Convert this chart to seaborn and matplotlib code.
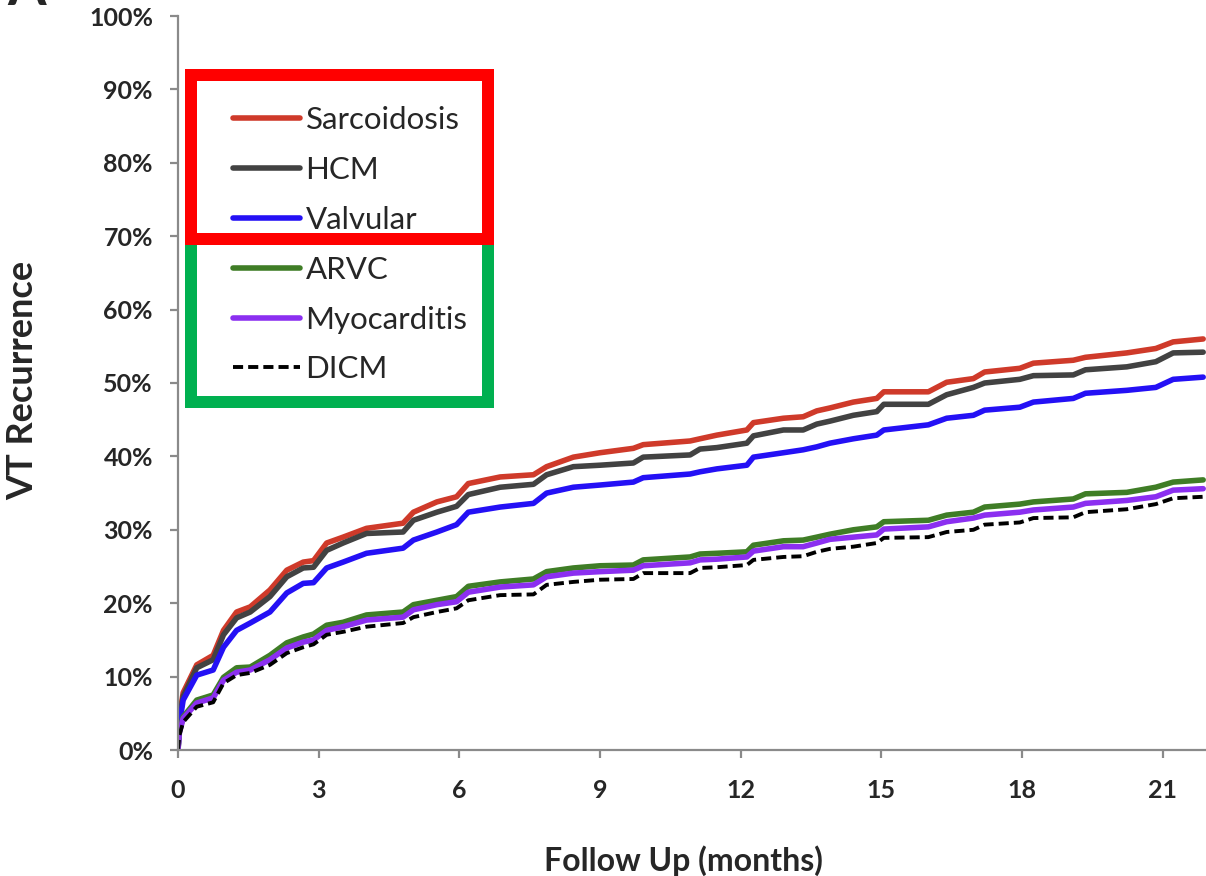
import matplotlib
matplotlib.use("Agg")
import matplotlib.pyplot as plt
from matplotlib.patches import Rectangle
import numpy as np
import pandas as pd
import seaborn as sns

# Follow-up time grid (months)
months = [0, 0.03, 0.11, 0.40, 0.75, 0.97, 1.25, 1.54, 1.96, 2.32, 2.67, 2.89,
          3.17, 3.52, 4.02, 4.80, 5.02, 5.52, 5.94, 6.19, 6.87, 7.58, 7.86,
          8.43, 9.00, 9.71, 9.92, 10.92, 11.13, 11.49, 12.13, 12.27, 12.91,
          13.33, 13.62, 13.90, 14.40, 14.90, 15.05, 16.0, 16.39, 16.96, 17.2,
          17.95, 18.24, 19.09, 19.35, 20.23, 20.85, 21.22, 21.86]

# Cumulative VT recurrence (%) by etiology
sarcoidosis = [0, 4.5, 7.8, 11.6, 12.9, 16.3, 18.8, 19.5, 21.8, 24.5, 25.6, 25.8,
               28.2, 29.0, 30.2, 30.9, 32.4, 33.8, 34.5, 36.3, 37.2, 37.5, 38.6,
               39.9, 40.5, 41.1, 41.6, 42.1, 42.4, 42.9, 43.6, 44.6, 45.2,
               45.4, 46.2, 46.6, 47.4, 47.9, 48.8, 48.8, 50.1, 50.6, 51.5,
               52.0, 52.7, 53.1, 53.5, 54.1, 54.7, 55.6, 56.0]
hcm = [0, 4.2, 7.3, 11.2, 12.3, 15.7, 18.0, 18.8, 20.9, 23.6, 24.8, 24.9,
       27.2, 28.2, 29.5, 29.7, 31.3, 32.4, 33.2, 34.8, 35.8, 36.2, 37.5,
       38.6, 38.8, 39.1, 39.9, 40.2, 41.0, 41.2, 41.8, 42.8, 43.6,
       43.6, 44.4, 44.8, 45.6, 46.1, 47.1, 47.1, 48.4, 49.4, 50.0,
       50.5, 51.0, 51.1, 51.8, 52.2, 52.9, 54.1, 54.2]
valvular = [0, 3.5, 6.8, 10.2, 10.9, 14.0, 16.3, 17.3, 18.8, 21.4, 22.7, 22.8,
            24.8, 25.6, 26.8, 27.5, 28.6, 29.7, 30.7, 32.4, 33.1, 33.6, 35.0,
            35.8, 36.1, 36.5, 37.1, 37.6, 37.9, 38.3, 38.8, 39.9, 40.5,
            40.9, 41.3, 41.8, 42.4, 42.9, 43.6, 44.3, 45.2, 45.6, 46.3,
            46.7, 47.4, 47.9, 48.6, 49.0, 49.4, 50.5, 50.8]
arvc = [0, 2.5, 4.5, 6.8, 7.5, 9.9, 11.2, 11.3, 12.9, 14.6, 15.4, 15.8,
        17.0, 17.4, 18.4, 18.8, 19.8, 20.4, 20.9, 22.3, 22.9, 23.3, 24.3,
        24.8, 25.1, 25.2, 25.9, 26.3, 26.7, 26.8, 27.0, 27.9, 28.5,
        28.6, 29.0, 29.4, 30.0, 30.4, 31.1, 31.3, 32.0, 32.4, 33.1,
        33.5, 33.8, 34.2, 34.9, 35.1, 35.8, 36.5, 36.8]
myocarditis = [0, 2.4, 4.3, 6.4, 7.1, 9.5, 10.6, 10.9, 12.3, 13.9, 14.7, 15.0,
               16.3, 16.8, 17.7, 18.1, 19.1, 19.8, 20.2, 21.5, 22.2, 22.5, 23.6,
               24.1, 24.3, 24.5, 25.1, 25.5, 25.9, 26.0, 26.3, 27.1, 27.7,
               27.7, 28.2, 28.7, 29.0, 29.3, 30.1, 30.4, 31.1, 31.6, 32.0,
               32.4, 32.7, 33.1, 33.6, 34.0, 34.5, 35.4, 35.6]
dicm = [0, 2.0, 3.8, 5.9, 6.5, 9.1, 10.2, 10.5, 11.6, 13.2, 14.0, 14.4,
        15.7, 16.1, 16.8, 17.3, 18.1, 18.8, 19.3, 20.4, 21.1, 21.2, 22.5,
        22.9, 23.2, 23.3, 24.1, 24.1, 24.8, 24.9, 25.2, 25.9, 26.3,
        26.4, 27.0, 27.4, 27.7, 28.2, 28.9, 29.0, 29.7, 30.0, 30.7,
        31.0, 31.6, 31.7, 32.4, 32.8, 33.5, 34.3, 34.5]

groups = ["Sarcoidosis", "HCM", "Valvular", "ARVC", "Myocarditis", "DICM"]
series = [sarcoidosis, hcm, valvular, arvc, myocarditis, dicm]
colors = ["#cf3a2a", "#424242", "#2410f5", "#3f7d26", "#8b2ff0", "#000000"]

x_ticks = [0, 3, 6, 9, 12, 15, 18, 21]
y_ticks = [0, 10, 20, 30, 40, 50, 60, 70, 80, 90, 100]

df = pd.concat(
    [pd.DataFrame({"month": months, "pct": vals, "group": g})
     for g, vals in zip(groups, series)],
    ignore_index=True,
)

sns.set_theme(style="white")
plt.rcParams["font.family"] = ["Lato", "DejaVu Sans"]

W, H = 1206, 876
fig = plt.figure(figsize=(W / 100, H / 100), dpi=100)
ax = fig.add_axes([178 / W, 126 / H, 1028 / W, 734 / H])

for g, c in zip(groups, colors):
    sub = df[df["group"] == g]
    if g == "DICM":
        sns.lineplot(data=sub, x="month", y="pct", ax=ax, color=c, lw=2.8,
                     label=g, estimator=None, sort=False)
        ax.lines[-1].set_dashes((2.6, 1.3))
    else:
        sns.lineplot(data=sub, x="month", y="pct", ax=ax, color=c, lw=4.0,
                     label=g, estimator=None, sort=False)

ax.set_xlim(0, 21.92)
ax.set_ylim(0, 100)
ax.set_xticks(x_ticks)
ax.set_xticklabels([str(t) for t in x_ticks])
ax.set_yticks(y_ticks)
ax.set_yticklabels([f"{t}%" for t in y_ticks])

for side in ["top", "right"]:
    ax.spines[side].set_visible(False)
for side in ["left", "bottom"]:
    ax.spines[side].set_color("#8a8a8a")
    ax.spines[side].set_linewidth(1.6)

ax.tick_params(axis="y", which="major", direction="out", length=6,
               width=1.6, color="#8a8a8a", labelsize=18, pad=12, left=True)
ax.tick_params(axis="x", which="major", direction="out", length=6,
               width=1.6, color="#8a8a8a", labelsize=18, pad=15, bottom=True)
for lab in ax.get_xticklabels() + ax.get_yticklabels():
    lab.set_fontweight("bold")

ax.set_xlabel("Follow Up (months)", fontsize=23, fontweight="bold")
ax.set_ylabel("VT Recurrence", fontsize=26, fontweight="bold")
ax.xaxis.set_label_coords(0.492, -0.13)
ax.yaxis.set_label_coords(-0.135, 0.504)

# Group frames around the legend entries
lw_box = 12 * 72 / 100
green_box = Rectangle((191 / W, (H - 402) / H), 297 / W, 163 / H,
                      transform=fig.transFigure, fill=False,
                      edgecolor="#00b050", lw=lw_box, joinstyle="miter",
                      zorder=5)
red_box = Rectangle((191 / W, (H - 239) / H), 297 / W, 164 / H,
                    transform=fig.transFigure, fill=False,
                    edgecolor="#ff0000", lw=lw_box, joinstyle="miter",
                    zorder=6)
fig.patches.extend([green_box, red_box])

handles, labels = ax.get_legend_handles_labels()
leg = ax.legend(handles, labels, loc="upper left",
                bbox_to_anchor=(233 / W, (H - 106) / H),
                bbox_transform=fig.transFigure, frameon=False, borderpad=0,
                borderaxespad=0, handlelength=2.15, handletextpad=0.17,
                labelspacing=0.70, fontsize=22.5)
leg.set_zorder(10)

fig.text(7 / W, 1 - 5 / H, "A", fontsize=40, fontweight="bold",
         ha="left", va="baseline")

fig.savefig("out.png", dpi=100)
